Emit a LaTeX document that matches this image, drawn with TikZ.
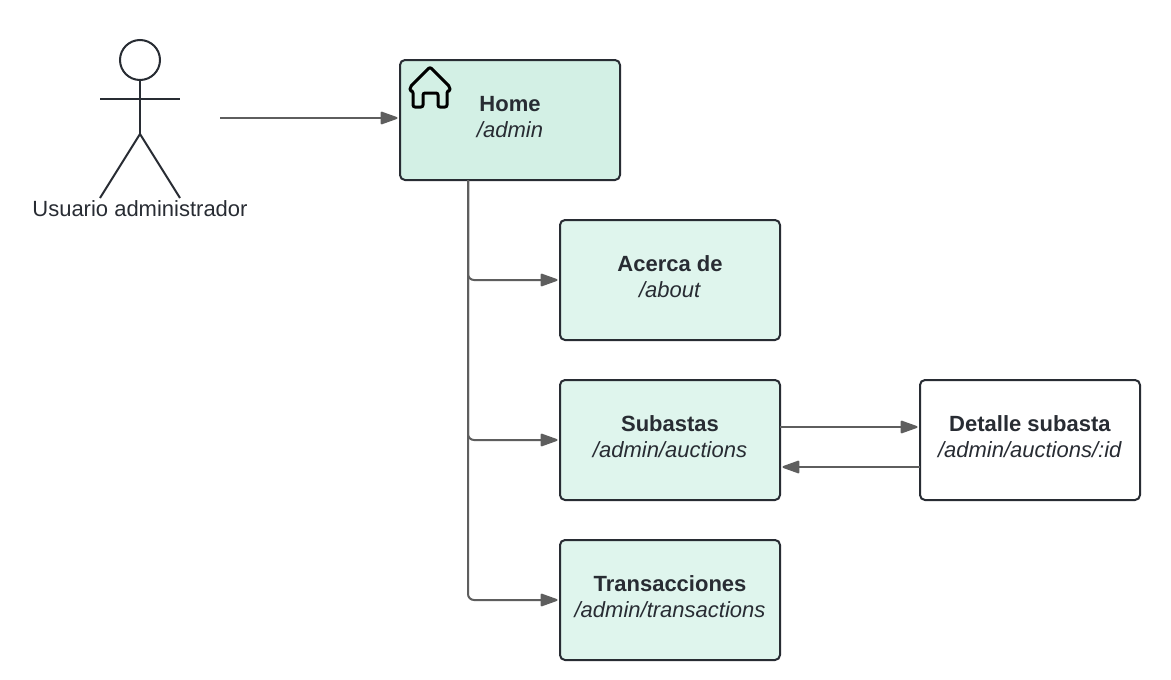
\documentclass[tikz,border=0pt]{standalone}
\usepackage{fontspec}
\setmainfont{Liberation Sans}
\usetikzlibrary{arrows.meta}
\definecolor{inktext}{HTML}{282C33}
\definecolor{linkgray}{HTML}{5E5E5E}
\definecolor{homegreen}{HTML}{D3F0E5}
\definecolor{pagegreen}{HTML}{DFF5ED}
\newcommand{\pagelabel}[2]{\textbf{#1}\\\textit{#2}\\[-20pt]\mbox{}}
\tikzset{
    pagebox/.style = {draw = inktext, line width = 2pt, rounded corners = 5pt, fill = pagegreen,
        minimum width = 220pt, minimum height = 120pt, align = center, text = inktext,
        font = \fontsize{22pt}{26pt}\selectfont, inner sep = 0pt},
    link/.style = {draw = linkgray, line width = 2pt, rounded corners = 6pt, shorten > = 1.5pt,
        -{Triangle[length = 19pt, width = 13pt, round = false]}},
    stick/.style = {draw = inktext, line width = 2pt},
}

\begin{document}
\begin{tikzpicture}[x = 1pt, y = -1pt]
        \useasboundingbox (0,0) rectangle (1171,680);
        \fill[white] (0,0) rectangle (1171,680);
        % actor
        \node[circle, stick, minimum size = 40pt, inner sep = 0pt] (head) at (140, 60) {};
        \coordinate (handl) at (100, 99);
        \coordinate (handr) at (180, 99);
        \coordinate (hip) at (140, 134);
        \coordinate (footl) at (100, 198);
        \coordinate (footr) at (180, 198);
        \draw[stick] (head) -- (hip);
        \draw[stick] (handl) -- (handr);
        \draw[stick] (footl) -- (hip) -- (footr);
        \node[text = inktext, font = \fontsize{22pt}{26pt}\selectfont] (actor) at (140, 209) {Usuario administrador};
        % pages
        \node[pagebox, fill = homegreen] (home) at (510, 120) {\pagelabel{Home}{/admin}};
        \node[pagebox] (about) at (670, 280) {\pagelabel{Acerca de}{/about}};
        \node[pagebox] (auctions) at (670, 440) {\pagelabel{Subastas}{/admin/auctions}};
        \node[pagebox] (transactions) at (670, 600) {\pagelabel{Transacciones}{/admin/transactions}};
        \node[pagebox, fill = white] (detail) at (1030, 440) {\pagelabel{Detalle subasta}{/admin/auctions/:id}};
        % house icon
        \draw[draw = black, line width = 3pt, line join = round, rounded corners = 2pt]
            (430, 67) -- (450, 87) -- (450, 91) -- (447, 91) -- (447, 107) -- (438, 107)
            -- (438, 93) -- (423, 93) -- (423, 107) -- (413, 107) -- (413, 91) -- (410, 91) -- (410, 87) -- cycle;
        % links
        \coordinate (start) at (220, 118);
        \coordinate (trunk) at (468, 180);
        \coordinate (goout) at (780, 427);
        \coordinate (goback) at (920, 467);
        \draw[link] (start) -- (start -| home.west);
        \draw[link] (trunk) |- (about.west);
        \draw[link] (trunk) |- (auctions.west);
        \draw[link] (trunk) |- (transactions.west);
        \draw[link] (goout) -- (goout -| detail.west);
        \draw[link] (goback) -- (goback -| auctions.east);
    \end{tikzpicture}
\end{document}
